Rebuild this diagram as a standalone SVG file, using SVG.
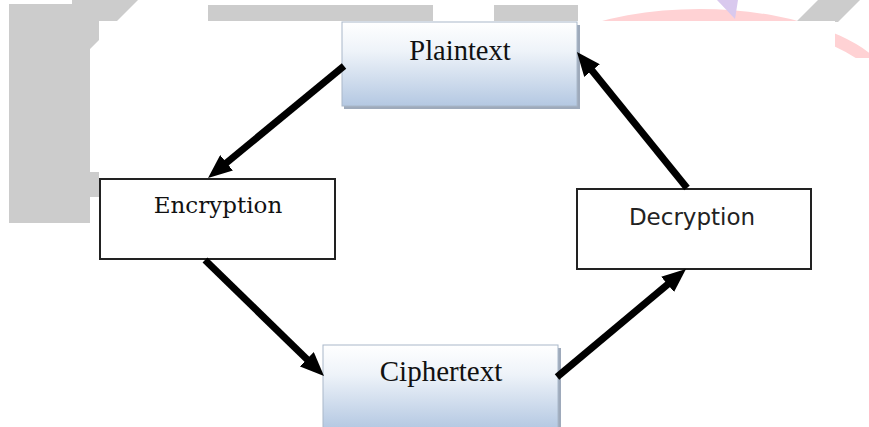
<svg xmlns="http://www.w3.org/2000/svg" width="869" height="427" viewBox="0 0 869 427">
  <defs>
    <linearGradient id="blueGrad" x1="0" y1="0" x2="0" y2="1">
      <stop offset="0" stop-color="#ffffff"/>
      <stop offset="0.35" stop-color="#eef3f9"/>
      <stop offset="1" stop-color="#b4c8e2"/>
    </linearGradient>
    <clipPath id="pinkClip">
      <rect x="0" y="0" width="869" height="58"/>
    </clipPath>
    <marker id="arrow" viewBox="0 0 24 20" refX="12" refY="10" markerWidth="24" markerHeight="20" markerUnits="userSpaceOnUse" orient="auto">
      <path d="M0,0 L24,10 L0,20 Z" fill="#000"/>
    </marker>
    <style>
      .wm { fill: #cccccc; }
      .plain { fill: #ffffff; stroke: #222222; stroke-width: 2; }
      .blue { fill: url(#blueGrad); stroke: #a9b8ca; stroke-width: 1; }
      .shadow { fill: #9eaabb; }
      .serif { font-family: "Liberation Serif", "Times New Roman", serif; fill: #111; text-anchor: middle; }
      .slab { font-family: "DejaVu Serif", serif; fill: #111; text-anchor: middle; }
      .sans { font-family: "DejaVu Sans", sans-serif; fill: #222; text-anchor: middle; }
      .conn { stroke: #000; stroke-width: 7; fill: none; marker-end: url(#arrow); }
    </style>
  </defs>

  <!-- background watermark shapes -->
  <g id="background">
    <rect x="0" y="0" width="869" height="427" fill="#ffffff"/>
    <path class="wm" d="M9,4 H72 V0 H138 L117,21 H99 V40 L90,49 V223 H9 Z"/>
    <rect class="wm" x="90" y="172" width="9" height="25"/>
    <rect class="wm" x="208" y="5" width="225" height="16"/>
    <rect class="wm" x="494" y="5" width="84" height="16"/>
    <ellipse cx="700" cy="104" rx="194" ry="89" fill="none" stroke="#ffd2d4" stroke-width="12" clip-path="url(#pinkClip)"/>
    <polygon points="717,0 738,0 735,19" fill="#d9c9ee"/>
    <polygon class="wm" points="818,0 860,0 838,22 796,22"/>
    <rect x="99" y="21" width="736" height="406" fill="#ffffff"/>
  </g>

  <g id="node-plaintext">
    <rect class="shadow" x="344" y="25" width="236" height="84"/>
    <rect class="blue" x="342" y="22" width="235" height="84"/>
    <text class="serif" x="460" y="60" font-size="28.5">Plaintext</text>
  </g>

  <g id="node-encryption">
    <rect class="plain" x="100" y="179" width="235" height="80"/>
    <text class="slab" x="218" y="213" font-size="23">Encryption</text>
  </g>

  <g id="node-decryption">
    <rect class="plain" x="577" y="189" width="234" height="80"/>
    <text class="sans" x="692" y="225" font-size="23">Decryption</text>
  </g>

  <g id="node-ciphertext">
    <rect class="shadow" x="325" y="348" width="236" height="82"/>
    <rect class="blue" x="323" y="345" width="235" height="84"/>
    <text class="serif" x="441" y="381" font-size="29">Ciphertext</text>
  </g>

  <g id="connectors">
    <line class="conn" x1="344" y1="66" x2="217.3" y2="170.4"/>
    <line class="conn" x1="205" y1="260" x2="315.4" y2="367.6"/>
    <line class="conn" x1="557" y1="377" x2="676.8" y2="276.7"/>
    <line class="conn" x1="687" y1="188" x2="584.5" y2="61.3"/>
  </g>
</svg>
